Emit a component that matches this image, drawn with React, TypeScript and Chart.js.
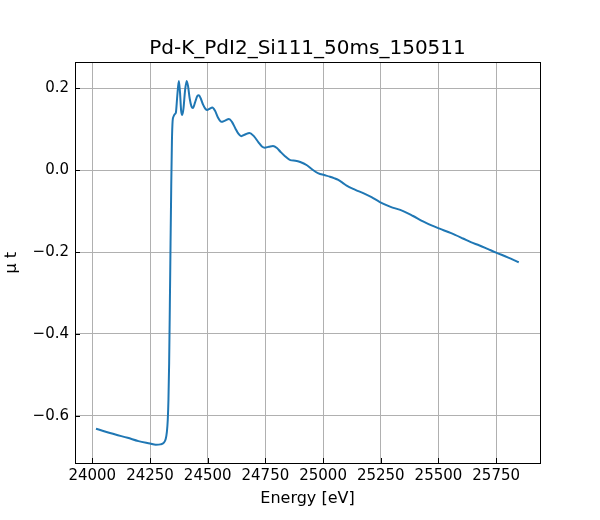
import React, { useEffect, useRef } from "react";
import { Chart, registerables, Plugin } from "chart.js";

Chart.register(...registerables);

// energy [eV] and absorption (mu t)
const energy = [
  24016, 24100, 24153, 24200, 24250, 24275, 24295, 24310, 24318, 24323,
  24327, 24330, 24333, 24336, 24339, 24342, 24345, 24348, 24352, 24358,
  24362, 24368, 24375, 24380, 24385, 24390, 24395, 24402, 24409, 24415,
  24422, 24430, 24436, 24445, 24455, 24462, 24470, 24480, 24490, 24498,
  24508, 24520, 24532, 24545, 24559, 24575, 24592, 24605, 24620, 24633,
  24645, 24662, 24681, 24700, 24720, 24735, 24747, 24765, 24783, 24800,
  24815, 24835, 24858, 24880, 24901, 24930, 24955, 24980, 25005, 25030,
  25050, 25066, 25085, 25102, 25140, 25174, 25210, 25246, 25290, 25347,
  25390, 25433, 25470, 25505, 25555, 25606, 25640, 25678, 25715, 25750,
  25800, 25848,
];
const muT = [
  -0.632, -0.646, -0.654, -0.662, -0.668, -0.671, -0.67, -0.666, -0.657, -0.64,
  -0.61, -0.56, -0.47, -0.33, -0.18, -0.04, 0.07, 0.12, 0.131, 0.137,
  0.14, 0.18, 0.218, 0.19, 0.145, 0.135, 0.15, 0.195, 0.218, 0.205,
  0.175, 0.155, 0.152, 0.165, 0.181, 0.183, 0.175, 0.16, 0.15, 0.147,
  0.15, 0.153, 0.145, 0.128, 0.118, 0.121, 0.125, 0.118, 0.102, 0.089,
  0.083, 0.087, 0.091, 0.083, 0.068, 0.058, 0.055, 0.057, 0.059, 0.054,
  0.045, 0.034, 0.0245, 0.023, 0.02, 0.012, 0.001, -0.008, -0.012, -0.016,
  -0.02, -0.024, -0.031, -0.038, -0.048, -0.056, -0.066, -0.078, -0.089, -0.1,
  -0.112, -0.125, -0.135, -0.143, -0.154, -0.167, -0.176, -0.184, -0.193, -0.2015,
  -0.213, -0.225,
];

const xTicks = [24000, 24250, 24500, 24750, 25000, 25250, 25500, 25750];
const yTicks = [-0.6, -0.4, -0.2, 0.0, 0.2];

const TITLE = "Pd-K_PdI2_Si111_50ms_150511";
const FONT = "'DejaVu Sans', sans-serif";

// matplotlib-like frame: full box, inward ticks and a title centred on the axes
const framePlugin: Plugin = {
  id: "frame",
  afterDraw(chart) {
    const { ctx, chartArea } = chart;
    const { left, right, top, bottom } = chartArea;
    const xs = chart.scales.x;
    const ys = chart.scales.y;
    ctx.save();
    ctx.strokeStyle = "#000";
    ctx.lineWidth = 1;
    ctx.beginPath();
    xTicks.forEach((v) => {
      const px = Math.round(xs.getPixelForValue(v)) + 0.5;
      ctx.moveTo(px, bottom);
      ctx.lineTo(px, bottom - 5);
    });
    yTicks.forEach((v) => {
      const py = Math.round(ys.getPixelForValue(v)) + 0.5;
      ctx.moveTo(left, py);
      ctx.lineTo(left + 5, py);
    });
    ctx.stroke();
    ctx.strokeRect(Math.round(left) + 0.5, Math.round(top) + 0.5, Math.round(right - left), Math.round(bottom - top));

    ctx.fillStyle = "#000";
    ctx.font = `20px ${FONT}`;
    ctx.textAlign = "center";
    ctx.textBaseline = "alphabetic";
    ctx.fillText(TITLE, (left + right) / 2, 54);
    ctx.restore();
  },
};

const App: React.FC = () => {
  const canvasRef = useRef<HTMLCanvasElement | null>(null);
  const chartRef = useRef<Chart | null>(null);

  useEffect(() => {
    if (chartRef.current) {
      chartRef.current.destroy();
    }
    if (!canvasRef.current) return;

    chartRef.current = new Chart(canvasRef.current, {
      type: "line",
      data: {
        datasets: [
          {
            data: energy.map((e, i) => ({ x: e, y: muT[i] })),
            borderColor: "#1f77b4",
            borderWidth: 2,
            pointRadius: 0,
            cubicInterpolationMode: "monotone",
            fill: false,
          },
        ],
      },
      options: {
        animation: false,
        responsive: false,
        layout: { padding: { left: 0, right: 60, top: 62.3, bottom: 0 } },
        plugins: {
          legend: { display: false },
          tooltip: { enabled: false },
          title: { display: false },
        },
        scales: {
          x: {
            type: "linear",
            min: 23925,
            max: 25940,
            afterBuildTicks: (scale) => {
              scale.ticks = xTicks.map((v) => ({ value: v }));
            },
            afterFit: (scale) => {
              scale.height = 57;
            },
            ticks: {
              color: "#000",
              font: { family: FONT, size: 15 },
              padding: 4,
              maxRotation: 0,
              callback: (v) => String(v),
            },
            grid: { color: "#b0b0b0", lineWidth: 1, drawTicks: false },
            border: { display: true, color: "#000", width: 1 },
            title: {
              display: true,
              text: "Energy [eV]",
              color: "#000",
              font: { family: FONT, size: 16 },
              padding: { top: 0, bottom: 12 },
            },
          },
          y: {
            type: "linear",
            min: -0.7155,
            max: 0.2635,
            afterBuildTicks: (scale) => {
              scale.ticks = yTicks.map((v) => ({ value: v }));
            },
            afterFit: (scale) => {
              scale.width = 75;
            },
            ticks: {
              color: "#000",
              font: { family: FONT, size: 15 },
              padding: 6,
              callback: (v) => {
                const n = Number(v);
                const s = Math.abs(n) < 1e-9 ? "0.0" : n.toFixed(1);
                return s.replace("-", "\u2212");
              },
            },
            grid: { color: "#b0b0b0", lineWidth: 1, drawTicks: false },
            border: { display: true, color: "#000", width: 1 },
            title: {
              display: true,
              text: "\u03bc t",
              color: "#000",
              font: { family: FONT, size: 16 },
              padding: { top: 2, bottom: 0 },
            },
          },
        },
      },
      plugins: [framePlugin],
    });

    return () => {
      if (chartRef.current) {
        chartRef.current.destroy();
        chartRef.current = null;
      }
    };
  }, []);

  return (
    <div style={{ position: "absolute", left: 0, top: 0, width: 600, height: 520, background: "#fff" }}>
      <canvas ref={canvasRef} width={600} height={520}></canvas>
    </div>
  );
};

export default App;
